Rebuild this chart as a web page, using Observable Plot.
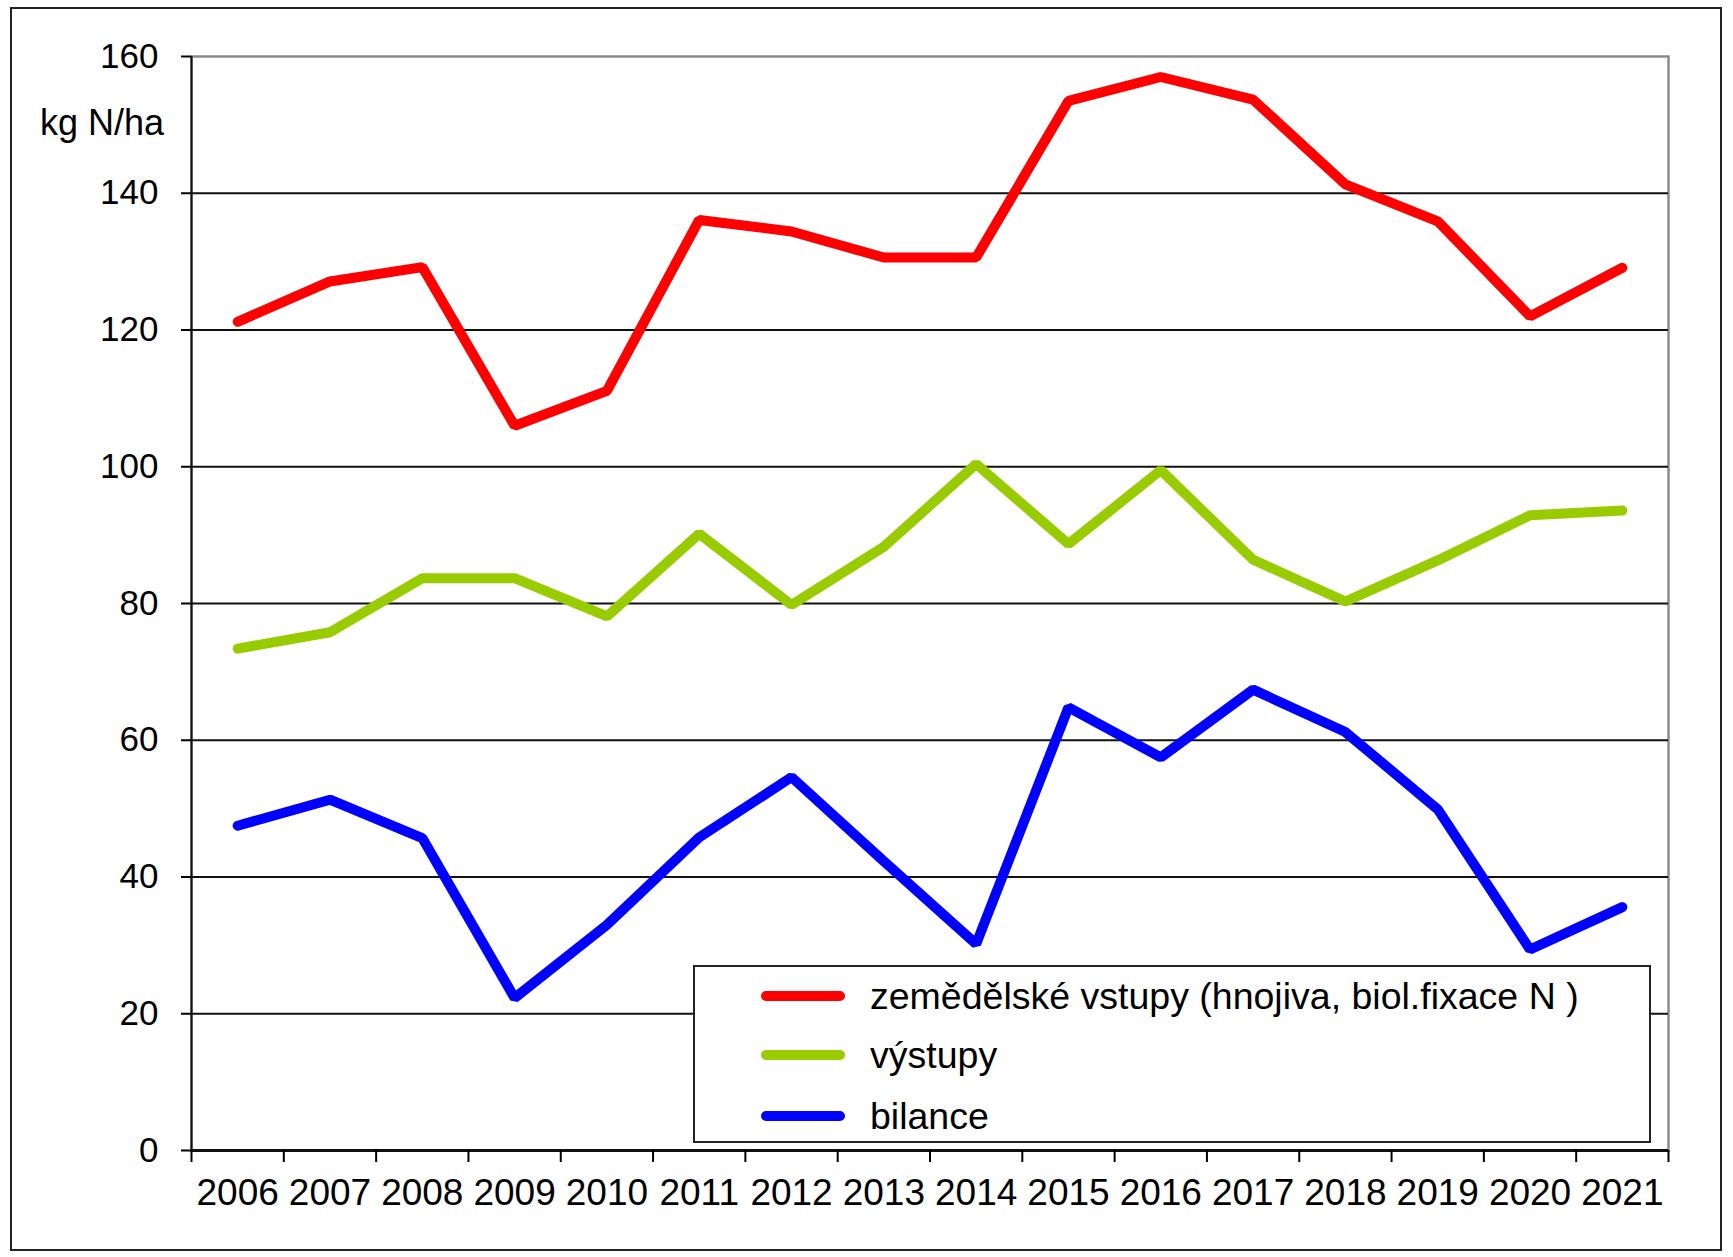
<!DOCTYPE html>
<html>
<head>
<meta charset="utf-8">
<script src="https://cdn.jsdelivr.net/npm/d3@7"></script>
<script src="https://cdn.jsdelivr.net/npm/@observablehq/plot@0.6"></script>
<style>
  html, body { margin: 0; padding: 0; background: #fff; }
  body { width: 1733px; height: 1257px; position: relative; overflow: hidden; font-family: "Liberation Sans", Arial, sans-serif; color: #000; }
  #frame { position: absolute; left: 10px; top: 7px; width: 1708px; height: 1240px; border: 2px solid #222; box-sizing: content-box; }
  #chart { position: absolute; left: 0; top: 0; }
  #unit { position: absolute; left: 40px; top: 105px; font-size: 36px; line-height: 36px; white-space: nowrap; }
  #legend { position: absolute; left: 693px; top: 965px; width: 954px; height: 174px; border: 2px solid #222; background: #fff; }
  .row { position: absolute; left: 0; height: 44px; width: 100%; }
  .sw { position: absolute; left: 66px; top: 17px; width: 84px; height: 10px; border-radius: 5px; }
  .lbl { position: absolute; left: 175px; top: 0; line-height: 44px; font-size: 37.5px; white-space: nowrap; }
</style>
</head>
<body>
<div id="frame"></div>
<div id="chart"></div>
<div id="unit"></div>
<div id="legend"></div>
<script>
// ---- data ----
const years = [2006, 2007, 2008, 2009, 2010, 2011, 2012, 2013, 2014, 2015, 2016, 2017, 2018, 2019, 2020, 2021];
const seriesNames = ["zemědělské vstupy (hnojiva, biol.fixace N )", "výstupy", "bilance"];
const seriesColors = ["#FF0000", "#99CC00", "#0000FF"];
const inputs  = [121.2, 127.1, 129.2, 106.0, 111.1, 136.1, 134.4, 130.6, 130.6, 153.5, 157.0, 153.7, 141.3, 135.9, 122.0, 129.1];
const outputs = [73.4, 75.8, 83.7, 83.7, 78.1, 90.2, 79.8, 88.3, 100.4, 88.7, 99.5, 86.4, 80.3, 86.3, 92.9, 93.6];
const balance = [47.5, 51.3, 45.7, 22.3, 33.0, 45.8, 54.6, 42.3, 30.2, 64.8, 57.5, 67.4, 61.2, 49.9, 29.4, 35.6];
const yTicks = [0, 20, 40, 60, 80, 100, 120, 140, 160];
const unitLabel = "kg N/ha";

// ---- build tables ----
const allSeries = [inputs, outputs, balance];
const tables = allSeries.map((vals, s) => years.map((yr, i) => ({year: yr, value: vals[i], series: seriesNames[s]})));
const boundaries = [years[0] - 0.5, ...years.map(y => y + 0.5)];
const gridLines = yTicks.filter(v => v > 0 && v < yTicks[yTicks.length - 1]);

const chart = Plot.plot({
  width: 1733,
  height: 1257,
  marginLeft: 191,
  marginRight: 65,
  marginTop: 56,
  marginBottom: 107,
  style: {fontFamily: '"Liberation Sans", Arial, sans-serif', background: "transparent", color: "#000"},
  x: {type: "linear", domain: [boundaries[0], boundaries[boundaries.length - 1]]},
  y: {domain: [0, 160]},
  marks: [
    Plot.frame({stroke: "#8c8c8c", strokeWidth: 2.5}),
    Plot.ruleY(gridLines, {stroke: "#111", strokeWidth: 2}),
    Plot.ruleY([0], {stroke: "#111", strokeWidth: 3}),
    Plot.ruleX([boundaries[0]], {stroke: "#111", strokeWidth: 2}),
    Plot.axisY({ticks: yTicks, tickSize: 10, tickPadding: 23, fontSize: 35, tickFormat: "d", label: null, strokeWidth: 2}),
    Plot.axisX({ticks: boundaries, tickSize: 12, tickFormat: () => "", label: null, strokeWidth: 2}),
    Plot.axisX({ticks: years, tickSize: 0, tickPadding: 28, fontSize: 37, tickFormat: "d", label: null}),
    ...tables.map((t, s) => Plot.line(t, {
      x: "year", y: "value", stroke: seriesColors[s], strokeWidth: 10,
      strokeLinecap: "round", strokeLinejoin: "miter"
    }))
  ]
});
document.getElementById("chart").appendChild(chart);
document.getElementById("unit").textContent = unitLabel;

// ---- legend ----
const legend = document.getElementById("legend");
const rowTops = [7, 66, 127];
seriesNames.forEach((name, i) => {
  const row = document.createElement("div");
  row.className = "row";
  row.style.top = rowTops[i] + "px";
  const sw = document.createElement("div");
  sw.className = "sw";
  sw.style.background = seriesColors[i];
  const lbl = document.createElement("div");
  lbl.className = "lbl";
  lbl.textContent = name;
  row.appendChild(sw);
  row.appendChild(lbl);
  legend.appendChild(row);
});
</script>
</body>
</html>
